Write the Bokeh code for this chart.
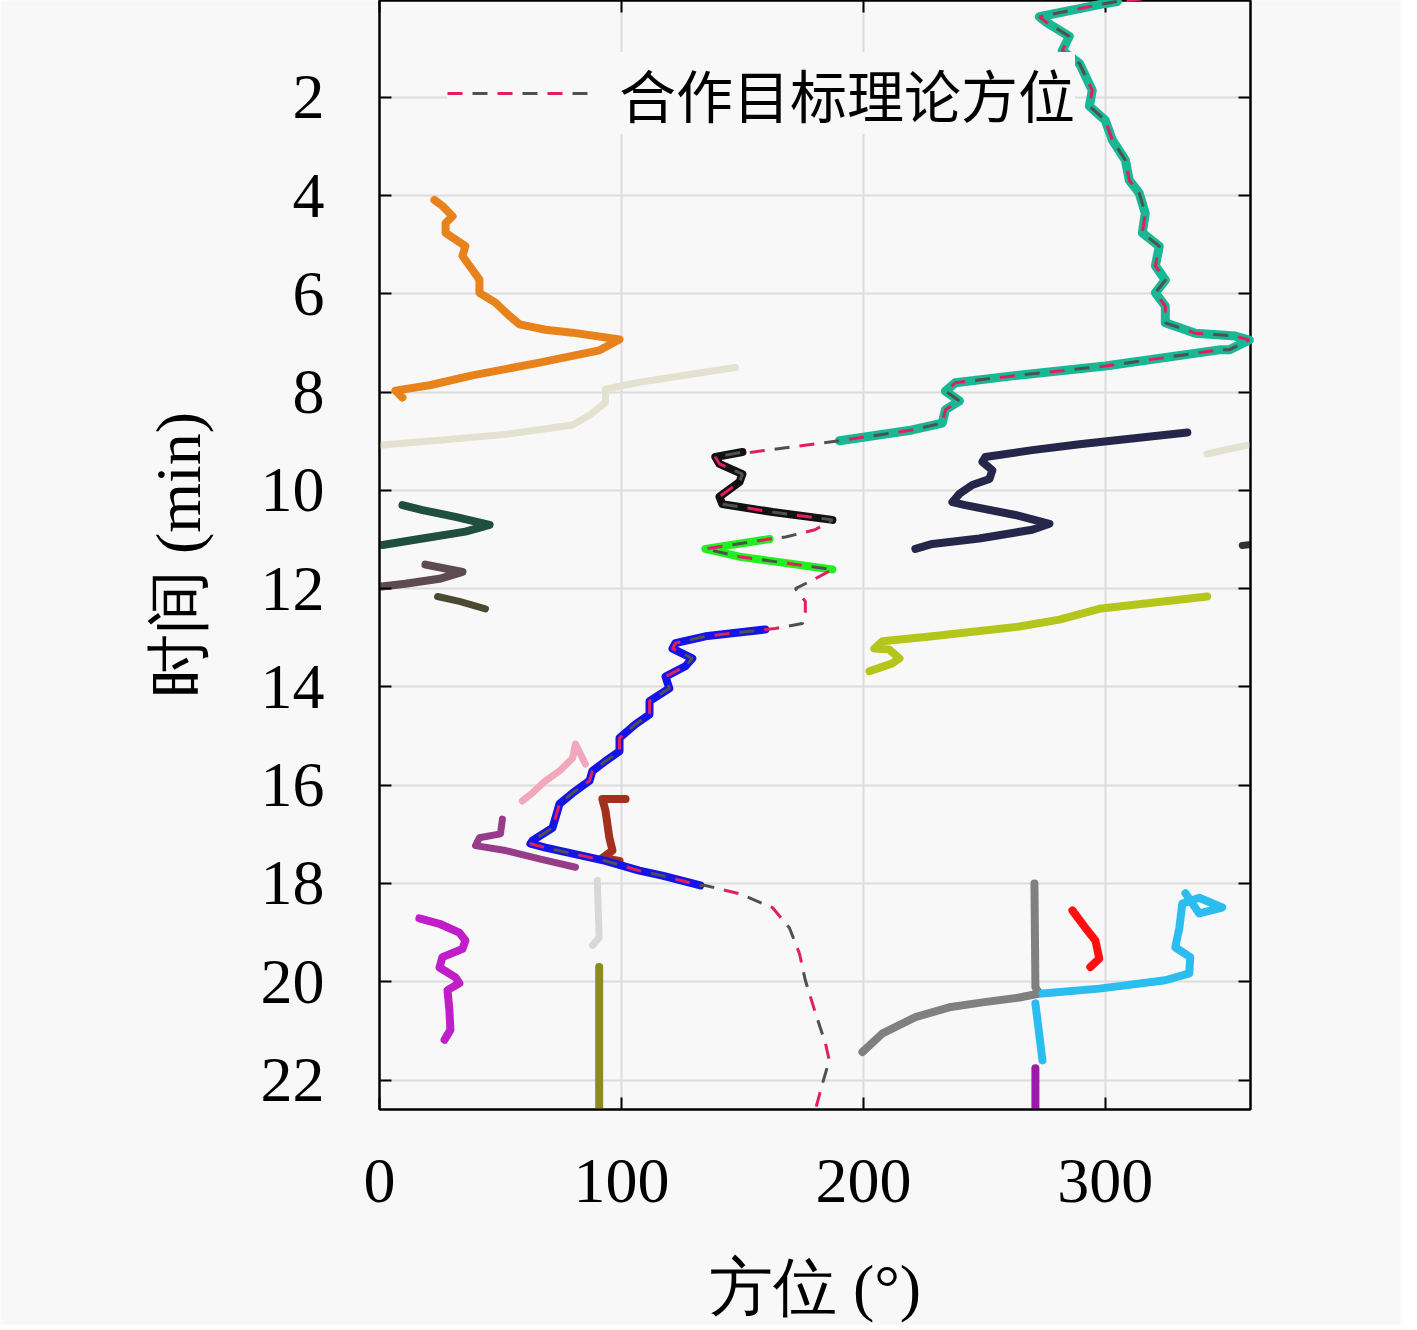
from bokeh.plotting import figure
from bokeh.models import Range1d, LinearAxis, FixedTicker, Legend, LegendItem
from bokeh.embed import file_html
from bokeh.resources import INLINE

# ---------------- data (azimuth in degrees, time in minutes) ----------------
x_ticks = [0, 100, 200, 300]
y_ticks = [2, 4, 6, 8, 10, 12, 14, 16, 18, 20, 22]

teal_az = [305, 300, 272.7, 275.2, 285.1, 282.2, 289.3, 294.6, 293.4, 300, 302.9, 308.3, 309.9, 314,
           316.5, 315.3, 322.3, 320.7, 324.8, 320.7, 324.8, 324.8, 337.2, 353.7, 359.5, 351.2, 347.1,
           300, 261.6, 238, 233.9, 239.7, 233.9, 232.6, 220.2, 190.1]
teal_t = [0.05, 0.09, 0.36, 0.46, 0.76, 1.05, 1.31, 1.86, 2.18, 2.47, 2.87, 3.28, 3.69, 3.95,
          4.36, 4.76, 5.03, 5.43, 5.72, 5.98, 6.25, 6.59, 6.80, 6.86, 6.94, 7.14, 7.14,
          7.47, 7.67, 7.81, 7.98, 8.18, 8.36, 8.63, 8.77, 8.99]

black_az = [150, 138.8, 140.5, 150, 148.8, 140.5, 141.7, 162.4, 187.2]
black_t = [9.22, 9.32, 9.46, 9.67, 9.83, 10.13, 10.28, 10.44, 10.60]

green_az = [161.2, 134.7, 148.8, 187.2]
green_t = [10.99, 11.19, 11.35, 11.61]

blue_az = [159.5, 134.7, 122.3, 121.1, 129.3, 126.4, 118.2, 119.8, 111.6, 111.6, 105.8, 99.2, 99.2,
           93.4, 88, 86.8, 79.8, 74.4, 72.7, 71.5, 63.2, 62.4, 68.6, 93.4, 107.4, 116.9, 132.6]
blue_t = [12.83, 12.97, 13.11, 13.22, 13.42, 13.58, 13.79, 14.03, 14.29, 14.56, 14.76, 15.04, 15.31,
          15.51, 15.71, 15.91, 16.16, 16.38, 16.67, 16.87, 17.13, 17.19, 17.27, 17.54, 17.74, 17.84, 18.04]

# theoretical azimuth segments that are not covered by a measured track
theo_top_az = [315]
theo_top_t = [0.0]
theo_gap1_az = [151.2]
theo_gap1_t = [9.24]
theo_gap2_az = [180, 167.8]
theo_gap2_t = [10.8, 10.95]
theo_gap3_az = [180, 171.9, 176, 176, 174.8, 163.6]
theo_gap3_t = [11.8, 12.0, 12.26, 12.47, 12.71, 12.81]
theo_tail_az = [134.7, 148.8, 162.4, 169.4, 173.6, 176, 180.2, 184.3, 185.9, 183.1, 180.2]
theo_tail_t = [18.04, 18.21, 18.49, 18.9, 19.43, 19.97, 20.64, 21.25, 21.6, 22.07, 22.6]

orange_az = [22.7, 26, 30.2, 27.3, 27.3, 35.5, 34.3, 38.4, 41.3, 41.3, 47.9, 53.7, 57.9, 68.6, 79.8,
             99.2, 90.9, 66.1, 38.4, 20.7, 6.6, 9.5]
orange_t = [4.09, 4.21, 4.42, 4.56, 4.76, 5.03, 5.23, 5.51, 5.71, 5.98, 6.18, 6.45, 6.62, 6.73, 6.79,
            6.93, 7.15, 7.4, 7.66, 7.86, 7.97, 8.11]

beige_az = [147.1, 107.4, 93.4, 93.4, 86.8, 79.8, 52.1, 24.8, 0]
beige_t = [7.5, 7.8, 7.94, 8.21, 8.47, 8.67, 8.86, 8.98, 9.08]
beige2_az = [342, 358.7]
beige2_t = [9.26, 9.08]

navy_az = [333.9, 289.3, 269.8, 250.4, 249.2, 253.3, 252.1, 245, 239.7, 236.8, 242.1, 262.8, 276.9,
           269.8, 247.9, 228.5, 221.5]
navy_t = [8.82, 9.06, 9.18, 9.32, 9.42, 9.59, 9.77, 9.89, 10.07, 10.24, 10.3, 10.5, 10.68,
          10.8, 10.98, 11.09, 11.19]
navy2_az = [356.6, 360]
navy2_t = [11.12, 11.1]

ygreen_az = [342.1, 297.5, 281, 264.5, 228.5, 207.9, 204.5, 210.7, 214.9, 212, 202.5]
ygreen_t = [12.16, 12.41, 12.63, 12.77, 12.97, 13.07, 13.22, 13.24, 13.42, 13.52, 13.68]

dkgreen_az = [9.5, 17.8, 31.4, 45.5, 35.5, 17.8, 1.2]
dkgreen_t = [10.3, 10.4, 10.54, 10.7, 10.84, 10.98, 11.11]

mauve_az = [19, 34.3, 24.8, 10.7, 0]
mauve_t = [11.51, 11.66, 11.8, 11.9, 11.96]

olive_small_az = [24, 33, 43.8]
olive_small_t = [12.16, 12.26, 12.41]

pink_az = [59, 63.2, 68.6, 74.4, 79.8, 81, 85.1]
pink_t = [16.32, 16.16, 15.91, 15.71, 15.45, 15.16, 15.57]

purple_az = [50.8, 50, 41.3, 39.7, 52.1, 66.1, 81]
purple_t = [16.69, 16.99, 17.07, 17.23, 17.33, 17.5, 17.67]

brown_az = [101.7, 92.1, 93.4, 95, 96.3, 92.1, 99.2]
brown_t = [16.28, 16.28, 16.52, 17.07, 17.33, 17.48, 17.54]

ltgray_az = [90, 90.8, 88]
ltgray_t = [17.94, 19.1, 19.26]

olive_az = [90.8, 90.8, 90.8]
olive_t = [19.7, 21.13, 22.6]

magenta_az = [16.5, 24.8, 33, 35.5, 34.3, 26, 24.8, 31.4, 33, 28.1, 28.9, 29.3, 26.9]
magenta_t = [18.71, 18.82, 19.0, 19.16, 19.33, 19.5, 19.71, 19.91, 20.03, 20.17, 20.58, 20.98, 21.18]

gray_az = [270.7, 271.1, 272.7, 264.5, 249.2, 235.5, 221.5, 207.9, 199.6]
gray_t = [18.0, 20.11, 20.24, 20.32, 20.42, 20.52, 20.72, 21.05, 21.43]

sky_az = [274, 297.5, 324.8, 334.7, 335.1, 328.9, 330.6, 331.8, 338.8, 348.3, 338.8, 333.1]
sky_t = [20.24, 20.14, 19.97, 19.83, 19.5, 19.3, 18.9, 18.41, 18.29, 18.49, 18.61, 18.2]
sky2_az = [271.1, 274]
sky2_t = [20.44, 21.6]

red_az = [286.4, 291.7, 295.9, 297.5, 293.8]
red_t = [18.55, 18.9, 19.16, 19.53, 19.7]

violet_az = [271.1, 271.1]
violet_t = [21.76, 22.6]

legend_label = "合作目标理论方位"
x_label = "方位 (°)"
y_label = "时间 (min)"

# ---------------- figure ----------------
BG = "#f8f8f8"
p = figure(width=1401, height=1314, frame_width=871, frame_height=1109,
           x_range=Range1d(0, 360), y_range=Range1d(22.6, 0.03),
           output_backend="svg", toolbar_location=None,
           min_border_left=379, min_border_right=151, min_border_top=0, min_border_bottom=205,
           background_fill_color=BG, border_fill_color=BG,
           outline_line_color="black", outline_line_width=2,
           x_axis_location="below", y_axis_location="left")

tick_font = "Liberation Serif"
for ax in [p.xaxis[0], p.yaxis[0]]:
    ax.major_label_text_font = tick_font
    ax.major_label_text_font_size = "64px"
    ax.major_label_text_color = "black"
    ax.axis_label_text_font = tick_font
    ax.axis_label_text_font_size = "64px"
    ax.axis_label_text_font_style = "normal"
    ax.axis_label_text_color = "black"
    ax.major_tick_in = 12
    ax.major_tick_out = 0
    ax.minor_tick_in = 0
    ax.minor_tick_out = 0
    ax.axis_line_width = 2
    ax.major_tick_line_width = 2

p.xaxis[0].ticker = FixedTicker(ticks=x_ticks)
p.yaxis[0].ticker = FixedTicker(ticks=y_ticks)
p.xaxis[0].axis_label = x_label
p.yaxis[0].axis_label = y_label
p.xaxis[0].major_label_standoff = 50
p.yaxis[0].major_label_standoff = 55
p.xaxis[0].axis_label_standoff = 47
p.yaxis[0].axis_label_standoff = 44


def side_axis(ticks):
    return LinearAxis(ticker=FixedTicker(ticks=ticks),
                      major_label_overrides={t: "" for t in ticks},
                      major_label_text_font_size="1px",
                      major_label_standoff=0, major_tick_in=12, major_tick_out=0,
                      minor_tick_in=0, minor_tick_out=0, axis_line_width=2,
                      major_tick_line_width=2)


p.add_layout(side_axis(y_ticks), "right")
p.add_layout(side_axis(x_ticks), "above")

p.xgrid.ticker = FixedTicker(ticks=x_ticks)
p.ygrid.ticker = FixedTicker(ticks=y_ticks)
p.grid.grid_line_color = "#dcdcdc"
p.grid.grid_line_width = 2

W = 8
def track(az, t, color, width=W, level="glyph"):
    return p.line(az, t, line_color=color, line_width=width, level=level,
                  line_join="round", line_cap="round")

track(beige_az, beige_t, "#e3e1cf", 7)
track(beige2_az, beige2_t, "#e3e1cf", 7)
track(ltgray_az, ltgray_t, "#d8d8d8", 7)
track(orange_az, orange_t, "#e8821c")
track(navy_az, navy_t, "#26264a")
track(navy2_az, navy2_t, "#333333", 7)
track(ygreen_az, ygreen_t, "#b4c61c")
track(dkgreen_az, dkgreen_t, "#1f4f40")
track(mauve_az, mauve_t, "#5e4a52")
track(olive_small_az, olive_small_t, "#4a4a32", 7)
track(pink_az, pink_t, "#f2a8bc", 7)
track(purple_az, purple_t, "#963c8a", 7)
track(brown_az, brown_t, "#a3301c")
track(olive_az, olive_t, "#8c8c22")
track(magenta_az, magenta_t, "#c01ec8")
track(gray_az, gray_t, "#808080")
track(sky_az, sky_t, "#2cbdf0")
track(sky2_az, sky2_t, "#2cbdf0")
track(red_az, red_t, "#ff1010")
track(violet_az, violet_t, "#9a1ca6")
track(teal_az, teal_t, "#18b894", 9, level="overlay")
track(black_az, black_t, "#111111")
track(green_az, green_t, "#22ee22")
track(blue_az, blue_t, "#1414e6")

theo_az = theo_top_az + teal_az + theo_gap1_az + black_az + theo_gap2_az + green_az + theo_gap3_az + blue_az + theo_tail_az
theo_t = theo_top_t + teal_t + theo_gap1_t + black_t + theo_gap2_t + green_t + theo_gap3_t + blue_t + theo_tail_t

r_red = p.line(theo_az, theo_t, line_color="#e0205e", line_width=3, line_dash="15 35",
               level="overlay")
r_gray = p.line(theo_az, theo_t, line_color="#505050", line_width=3, line_dash="15 35",
                line_dash_offset=25, level="overlay")

legend = Legend(items=[LegendItem(label=legend_label, renderers=[r_red, r_gray])],
                location=(68, 975), glyph_width=150, glyph_height=40, label_standoff=22,
                label_text_font="Noto Sans CJK SC", label_text_font_size="57px",
                label_text_color="black",
                background_fill_color=BG, background_fill_alpha=1.0,
                border_line_color=None, padding=8, margin=0, spacing=0)
p.add_layout(legend)

open("out.html", "w").write(file_html(p, INLINE))
